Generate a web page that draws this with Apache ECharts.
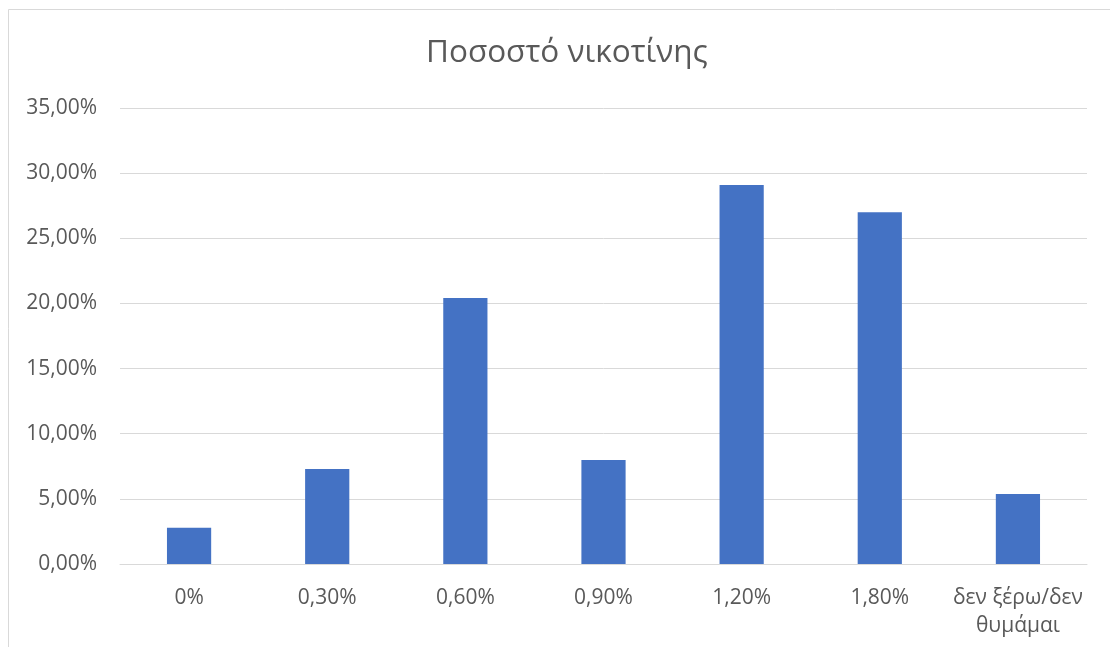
<!DOCTYPE html>
<html>
<head>
<meta charset="utf-8">
<style>
  html, body { margin: 0; padding: 0; background: #ffffff; }
  #chart { width: 1110px; height: 647px; }
</style>
<script src="https://cdn.jsdelivr.net/npm/echarts@6/dist/echarts.min.js"></script>
</head>
<body>
<div id="chart"></div>
<script>
// Nicotine strength categories and share of respondents (percent)
const categories = ['0%', '0,30%', '0,60%', '0,90%', '1,20%', '1,80%', 'δεν ξέρω/δεν\nθυμάμαι'];
const shares = [2.79, 7.29, 20.41, 7.98, 29.09, 26.99, 5.37];
const chartTitle = 'Ποσοστό νικοτίνης';

const FONT = '"Open Sans", "Noto Sans", sans-serif';
const TEXT = '#595959';

const chart = echarts.init(document.getElementById('chart'), null, { renderer: 'canvas' });
chart.setOption({
  animation: false,
  backgroundColor: '#ffffff',
  title: {
    text: chartTitle,
    left: 421,
    top: 32,
    textStyle: { fontFamily: FONT, fontSize: 31.5, fontWeight: 'normal', color: TEXT }
  },
  graphic: [{
    type: 'rect',
    shape: { x: 8.5, y: 9.5, width: 1200, height: 800 },
    style: { fill: 'none', stroke: '#d9d9d9', lineWidth: 1 },
    silent: true,
    z: -1
  }],
  grid: { left: 120, right: 23, top: 108, bottom: 83, containLabel: false },
  xAxis: {
    type: 'category',
    data: categories,
    axisTick: { show: false },
    axisLine: { show: true, lineStyle: { color: '#d9d9d9', width: 1 } },
    axisLabel: {
      fontFamily: FONT, fontSize: 21, color: TEXT, margin: 20,
      lineHeight: 28, interval: 0
    }
  },
  yAxis: {
    type: 'value',
    min: 0,
    max: 35,
    interval: 5,
    axisLine: { show: false },
    axisTick: { show: false },
    splitLine: { lineStyle: { color: '#d9d9d9', width: 1 } },
    axisLabel: {
      fontFamily: FONT, fontSize: 21, color: TEXT, margin: 23,
      formatter: v => v.toFixed(2).replace('.', ',') + '%'
    }
  },
  series: [{
    type: 'bar',
    data: shares,
    barWidth: '32%',
    itemStyle: { color: '#4472c4' }
  }]
});
</script>
</body>
</html>
